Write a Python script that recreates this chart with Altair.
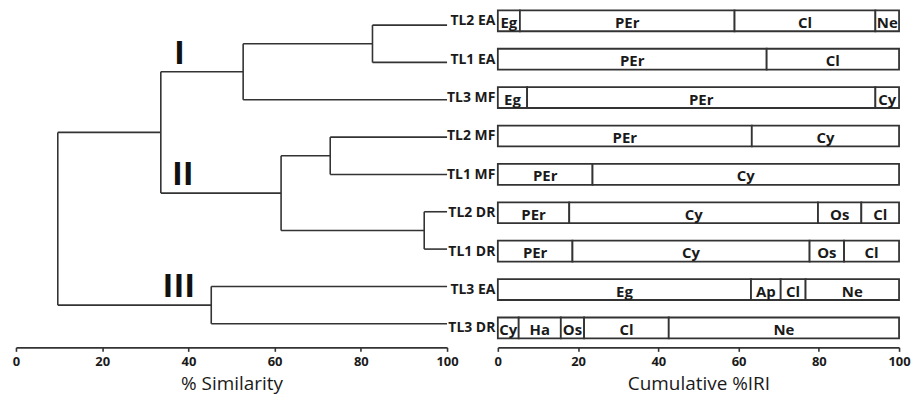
import json
import altair as alt
import pandas as pd

# ---------------- data ----------------
leaves = ["TL2 EA", "TL1 EA", "TL3 MF", "TL2 MF", "TL1 MF",
          "TL2 DR", "TL1 DR", "TL3 EA", "TL3 DR"]

# dendrogram merges: left child, right child, % similarity of the join
merge_names = ["A", "B", "C", "D", "E", "F", "G", "Root"]
merge_left = ["TL2 EA", "A", "TL2 MF", "TL2 DR", "C", "B", "TL3 EA", "F"]
merge_right = ["TL1 EA", "TL3 MF", "TL1 MF", "TL1 DR", "D", "E", "TL3 DR", "G"]
merge_sim = [82.7, 52.7, 72.9, 94.7, 61.5, 33.6, 45.3, 9.7]

cluster_labels = ["I", "II", "III"]
cluster_sim = [37.9, 38.7, 37.8]
cluster_row = [0.77, 4.02, 7.02]

seg_prey = [["Eg", "PEr", "Cl", "Ne"],
            ["PEr", "Cl"],
            ["Eg", "PEr", "Cy"],
            ["PEr", "Cy"],
            ["PEr", "Cy"],
            ["PEr", "Cy", "Os", "Cl"],
            ["PEr", "Cy", "Os", "Cl"],
            ["Eg", "Ap", "Cl", "Ne"],
            ["Cy", "Ha", "Os", "Cl", "Ne"]]
seg_iri = [[5.5, 53.5, 35.1, 5.9],
           [67.0, 33.0],
           [7.3, 86.8, 5.9],
           [63.3, 36.7],
           [23.6, 76.4],
           [17.8, 62.0, 10.8, 9.4],
           [18.6, 59.1, 8.6, 13.7],
           [63.1, 7.4, 6.2, 23.3],
           [5.2, 10.5, 5.8, 21.1, 57.4]]

axis_ticks = [0, 20, 40, 60, 80, 100]

# ---------------- build tables ----------------
pos = {name: (100.0, float(i)) for i, name in enumerate(leaves)}
h_rows, v_rows = [], []
for name, a, b, s in zip(merge_names, merge_left, merge_right, merge_sim):
    xa, ya = pos[a]
    xb, yb = pos[b]
    h_rows.append({"x1": s, "x2": xa, "y": ya})
    h_rows.append({"x1": s, "x2": xb, "y": yb})
    v_rows.append({"x": s, "y1": ya, "y2": yb})
    pos[name] = (s, (ya + yb) / 2)
hdf = pd.DataFrame(h_rows)
vdf = pd.DataFrame(v_rows)
rdf = pd.DataFrame({"x": cluster_sim, "y": cluster_row, "t": cluster_labels})

b_rows = []
for i, (preys, vals) in enumerate(zip(seg_prey, seg_iri)):
    start = 0.0
    for p, v in zip(preys, vals):
        b_rows.append({"row": i, "prey": p, "start": start, "end": start + v,
                       "mid": start + v / 2, "lo": i - 0.272, "hi": i + 0.272})
        start += v
bdf = pd.DataFrame(b_rows)

FONT = "Open Sans"
LINE = "#333333"
TXT = "#1a1a1a"

def x_axis(title):
    return alt.Axis(title=title, values=axis_ticks, format="d", grid=False,
                    labelFontSize=13, labelColor=TXT, labelFont=FONT,
                    labelFontWeight="bold", labelPadding=4, labelFlush=False,
                    domainColor=LINE, domainWidth=1.6, tickColor=LINE,
                    tickWidth=1.6, tickSize=4,
                    titleFontSize=19, titleFontWeight="normal", titleColor=TXT,
                    titleFont=FONT, titlePadding=6)

xs = alt.Scale(domain=[0, 100], nice=False)
ys_left = alt.Scale(domain=[-0.408, 8.632], reverse=True, nice=False, zero=False)
ys_right = alt.Scale(domain=[-0.285, 8.506], reverse=True, nice=False, zero=False)

horiz = alt.Chart(hdf).mark_rule(color=LINE, strokeWidth=1.6).encode(
    x=alt.X("x1:Q", scale=xs, axis=x_axis("% Similarity")),
    x2="x2:Q",
    y=alt.Y("y:Q", scale=ys_left, axis=None),
)
vert = alt.Chart(vdf).mark_rule(color=LINE, strokeWidth=1.6).encode(
    x=alt.X("x:Q", scale=xs),
    y=alt.Y("y1:Q", scale=ys_left, axis=None),
    y2="y2:Q",
)
roman = alt.Chart(rdf).mark_text(fontSize=33, fontWeight="bold", font=FONT,
                                 color="#111111", baseline="middle").encode(
    x=alt.X("x:Q", scale=xs),
    y=alt.Y("y:Q", scale=ys_left, axis=None),
    text="t:N",
)
left = alt.layer(horiz, vert, roman).properties(width=433, height=339)

label_expr = json.dumps(leaves) + "[round(datum.value)]"
row_axis = alt.Axis(title="", values=list(range(len(leaves))),
                    labelExpr=label_expr, domain=False, ticks=False,
                    grid=False, labelFontSize=14, labelFont=FONT,
                    labelFontWeight="bold", labelColor=TXT,
                    labelPadding=3, labelOverlap=False)
bars = alt.Chart(bdf).mark_bar(fill="white", stroke=LINE, strokeWidth=1.8).encode(
    x=alt.X("start:Q", scale=xs, axis=x_axis("Cumulative %IRI")),
    x2="end:Q",
    y=alt.Y("lo:Q", scale=ys_right, axis=row_axis),
    y2="hi:Q",
)
texts = alt.Chart(bdf).mark_text(fontSize=15, fontWeight="bold", font=FONT,
                                 color=TXT, baseline="middle", dy=2).encode(
    x=alt.X("mid:Q", scale=xs),
    y=alt.Y("row:Q", scale=ys_right, axis=row_axis),
    text="prey:N",
)
right = alt.layer(bars, texts).properties(width=403, height=339)

chart = alt.hconcat(left, right, spacing=51, bounds="flush").properties(
    padding={"left": 4, "top": 0, "right": 0, "bottom": 2}
).configure_view(stroke=None)

chart.save("out.html", embed_options={"renderer": "svg", "actions": False})
